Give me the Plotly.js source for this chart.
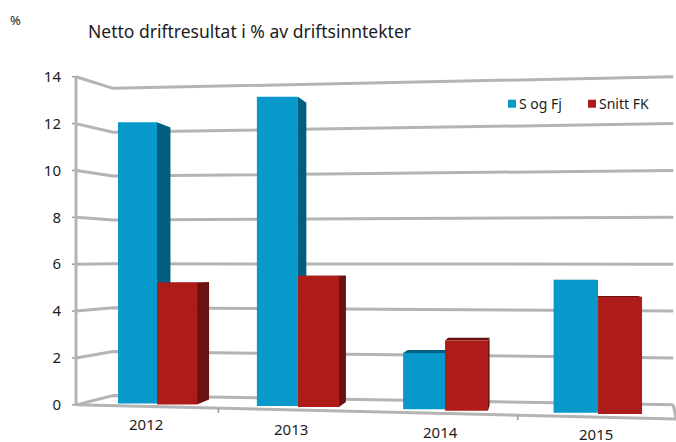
<!DOCTYPE html>
<html><head><meta charset="utf-8">
<script src="https://cdn.plot.ly/plotly-3.0.1.min.js"></script>
<style>html,body{margin:0;padding:0;background:#fff}#c{width:676px;height:442px}</style>
</head><body><div id="c"></div>
<script>
// ---- data ----
const years = [2012, 2013, 2014, 2015];
const seriesNames = ['S og Fj', 'Snitt FK'];
const sOgFj = [12.0, 13.2, 2.4, 5.66];
const snittFK = [5.2, 5.6, 3.0, 5.0];
const yTicks = [0, 2, 4, 6, 8, 10, 12, 14];
const titleText = 'Netto driftresultat i % av driftsinntekter';
const unitText = '%';

// ---- perspective of the picture, in axis units ----
const xShift = [0, -0.039, -0.036, 0.007];
const tiltBlue = [0.06, -0.05, -0.19, -0.335];
const tiltRed = [0.02, -0.09, -0.25, -0.395];
const widthBlue = [0.266, 0.28, 0.286, 0.303];
const widthRed = [0.273, 0.28, 0.293, 0.30];
const labelShift = [-0.075, -0.086, -0.064, -0.007];
const labelLevel = [-0.79, -1.0, -1.13, -1.24];
const floorTicks = [2012.418, 2014.46];
const vanish = {x: 2014.55, y: 5.8}, depth = 0.036;
const wall = {front: 2011.448, back: 2011.70, right: 2015.52, end: 2015.54, backScale: 0.936, backLift: 0.4, floorEnd: -0.6};

// ---- colours ----
const cBlue = '#0699c9', cBlueDark = '#005f80', cRed = '#ae1c1a', cRedDark = '#6b1110', cGrid = '#b4b4b4', cText = '#1c1c1c';
const font = 'Noto Sans, sans-serif';

// ---- frame ----
const W = 676, H = 442, mL = 70, mR = 0, mT = 65.3, mB = 1.8;
const pxX = p => (p - mL) / (W - mL - mR);
const pxY = p => 1 - (p - mT) / (H - mT - mB);

const back = (x, y) => [x + depth * (vanish.x - x), y + depth * (vanish.y - y)];
const path = pts => 'M' + pts.map(p => p[0] + ' ' + p[1]).join('L') + 'Z';
const openPath = pts => 'M' + pts.map(p => p[0] + ' ' + p[1]).join('L');

const shapes = [];
// walls and gridlines
const gridLine = {color: cGrid, width: 3};
yTicks.forEach(v => {
  shapes.push({type: 'path', layer: 'below', xref: 'x', yref: 'y', line: gridLine,
    path: openPath([[wall.front, v], [wall.back, wall.backLift + wall.backScale * v], [wall.right, v]])});
  shapes.push({type: 'line', layer: 'below', xref: 'x', yref: 'y', line: {color: '#9a9a9a', width: 1.5},
    x0: wall.front - 0.028, x1: wall.front, y0: v, y1: v});
});
shapes.push({type: 'line', layer: 'below', xref: 'x', yref: 'y', line: gridLine,
  x0: wall.front, x1: wall.front, y0: 0, y1: 14});
shapes.push({type: 'path', layer: 'below', xref: 'x', yref: 'y', line: gridLine,
  path: openPath([[wall.right, 0], [wall.end, wall.floorEnd], [wall.front, 0]])});
floorTicks.forEach(x => {
  const y = wall.floorEnd * (x - wall.front) / (wall.end - wall.front);
  shapes.push({type: 'line', layer: 'below', xref: 'x', yref: 'y', line: {color: '#9a9a9a', width: 1.5},
    x0: x, x1: x, y0: y, y1: y - 0.2});
});

// bar side and top faces, drawn beneath the bars
function faces(vals, tilt, xs0, xs1, col) {
  vals.forEach((v, i) => {
    const l = xs0[i], r = xs1[i], top = v + tilt[i], bot = tilt[i];
    const common = {type: 'path', layer: 'between', xref: 'x', yref: 'y', fillcolor: col, line: {width: 0}};
    if (r < vanish.x) shapes.push({...common, path: path([[r, top], back(r, top), back(r, bot), [r, bot]])});
    if (top < vanish.y) shapes.push({...common, path: path([[l, top], [r, top], back(r, top), back(l, top)])});
  });
}
const centre = years.map((y, i) => y + xShift[i]);
faces(sOgFj, tiltBlue, centre.map((c, i) => c - widthBlue[i]), centre, cBlueDark);
faces(snittFK, tiltRed, centre, centre.map((c, i) => c + widthRed[i]), cRedDark);

// legend swatches
[[508, cBlue], [588, cRed]].forEach(s => shapes.push({type: 'rect', xref: 'paper', yref: 'paper',
  x0: pxX(s[0]), x1: pxX(s[0] + 8), y0: pxY(108), y1: pxY(100), fillcolor: s[1], line: {width: 0}}));

const annotations = years.map((y, i) => ({x: y + labelShift[i], y: labelLevel[i], xref: 'x', yref: 'y',
  text: String(y), showarrow: false, xanchor: 'center', yanchor: 'middle', height: 15, borderpad: 0,
  font: {family: font, size: 15, color: cText}}));
annotations.push({xref: 'paper', yref: 'paper', x: pxX(517), y: pxY(104), text: seriesNames[0], showarrow: false,
  xanchor: 'left', yanchor: 'middle', font: {family: font, size: 14, color: cText}});
annotations.push({xref: 'paper', yref: 'paper', x: pxX(597), y: pxY(104), text: seriesNames[1], showarrow: false,
  xanchor: 'left', yanchor: 'middle', font: {family: font, size: 14, color: cText}});
annotations.push({xref: 'paper', yref: 'paper', x: pxX(15), y: pxY(20), text: unitText, showarrow: false,
  xanchor: 'center', yanchor: 'middle', font: {family: font, size: 13, color: cText}});

const traces = [
  {type: 'bar', name: seriesNames[0], x: centre, y: sOgFj, base: tiltBlue, width: widthBlue,
   offset: widthBlue.map(w => -w), marker: {color: cBlue, line: {width: 0}}, showlegend: false},
  {type: 'bar', name: seriesNames[1], x: centre, y: snittFK, base: tiltRed, width: widthRed,
   offset: 0, marker: {color: cRed, line: {width: 0}}, showlegend: false}
];

const layout = {
  width: W, height: H, margin: {l: mL, r: mR, t: mT, b: mB}, paper_bgcolor: '#fff', plot_bgcolor: '#fff',
  barmode: 'overlay', showlegend: false,
  title: {text: titleText, x: 88 / W, xanchor: 'left', xref: 'container', y: 1 - 32 / H, yanchor: 'middle', yref: 'container',
    font: {family: font, size: 17.5, color: cText}},
  xaxis: {type: 'linear', range: [2012 - 87 / 146.67, 2012 + 519 / 146.67], showgrid: false, zeroline: false,
    showline: false, showticklabels: false, ticks: ''},
  yaxis: {range: [-1.5, 14.5], showgrid: false, zeroline: false, showline: false, tickmode: 'array', tickvals: yTicks,
    ticktext: yTicks.map(String), ticks: '', ticklabelstandoff: 8, tickfont: {family: font, size: 15, color: cText}},
  shapes, annotations
};
Plotly.newPlot('c', traces, layout, {displayModeBar: false, staticPlot: true});
</script></body></html>
